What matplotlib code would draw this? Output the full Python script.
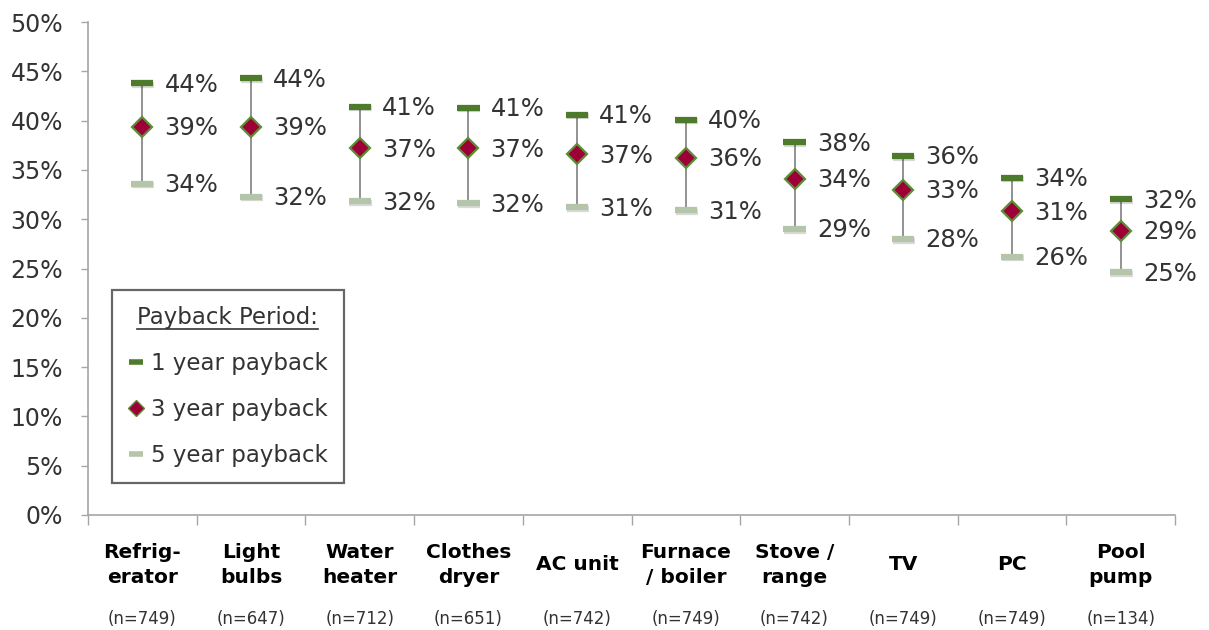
import numpy as np
import matplotlib
matplotlib.use("Agg")
import matplotlib.pyplot as plt
import matplotlib.patheffects as pe
from matplotlib.lines import Line2D
from matplotlib.ticker import PercentFormatter, FixedLocator

# --- Datos ----------------------------------------------------------------
categorias = ["Refrig-\nerator", "Light\nbulbs", "Water\nheater", "Clothes\ndryer",
              "AC unit", "Furnace\n/ boiler", "Stove /\nrange", "TV", "PC", "Pool\npump"]
muestras = ["(n=749)", "(n=647)", "(n=712)", "(n=651)", "(n=742)",
            "(n=749)", "(n=742)", "(n=749)", "(n=749)", "(n=134)"]
pago_1 = [0.438, 0.443, 0.414, 0.413, 0.406, 0.401, 0.378, 0.364, 0.342, 0.320]
pago_3 = [0.394, 0.394, 0.372, 0.372, 0.366, 0.362, 0.341, 0.330, 0.308, 0.288]
pago_5 = [0.336, 0.323, 0.318, 0.316, 0.312, 0.309, 0.290, 0.280, 0.262, 0.246]

VERDE = "#4e7a2b"
VERDE_CLARO = "#b5c5aa"
GRANATE = "#9c0036"
BORDE_ROMBO = "#5f8c38"
TEXTO = "#333333"
GRIS = "#a6a6a6"

fig = plt.figure(figsize=(12.09, 6.30), dpi=100)
ax = fig.add_axes([88 / 1209, 1 - 515 / 630, 1087 / 1209, 493 / 630])

x = np.arange(len(categorias))
sombra = [pe.SimpleLineShadow(offset=(0.6, -1.2), alpha=0.15), pe.Normal()]

# Lineas verticales entre 1 y 5 anos
ax.vlines(x, pago_5, pago_1, color="#7f7f7f", lw=1.2, zorder=2)
# Topes de 1 y 5 anos
ax.plot(x, pago_5, ls="none", marker="_", ms=16, mew=4.5, color=VERDE_CLARO,
        zorder=3, path_effects=sombra)
ax.plot(x, pago_1, ls="none", marker="_", ms=16, mew=4.5, color=VERDE,
        zorder=3, path_effects=sombra)
# Rombo de 3 anos
ax.plot(x, pago_3, ls="none", marker="D", ms=10, mfc=GRANATE, mec=BORDE_ROMBO,
        mew=1.6, zorder=4)

# Etiquetas de datos
for serie in (pago_1, pago_3, pago_5):
    for xi, v in zip(x, serie):
        ax.annotate(f"{v:.0%}", (xi, v), xytext=(16, -1), textcoords="offset points",
                    ha="left", va="center", fontsize=17.5, color=TEXTO)

# Ejes
ax.set_xlim(-0.5, len(categorias) - 0.5)
ax.set_ylim(0, 0.5)
ax.set_yticks(np.arange(0, 0.51, 0.05))
ax.yaxis.set_major_formatter(PercentFormatter(1.0, decimals=0))
ax.tick_params(axis="y", labelsize=17, labelcolor=TEXTO, color=GRIS, length=5,
               width=1, pad=13)
ax.xaxis.set_major_locator(FixedLocator(np.arange(-0.5, len(categorias), 1.0)))
ax.tick_params(axis="x", labelbottom=False, color=GRIS, length=7, width=1)
for lado in ("top", "right"):
    ax.spines[lado].set_visible(False)
for lado in ("left", "bottom"):
    ax.spines[lado].set_color(GRIS)
    ax.spines[lado].set_linewidth(1.2)

tr = ax.get_xaxis_transform()
for xi, cat, n in zip(x, categorias, muestras):
    ax.text(xi, -0.101, cat, transform=tr, ha="center", va="center",
            fontsize=14.5, fontweight="bold", color="black", linespacing=1.4)
    ax.text(xi, -0.210, n, transform=tr, ha="center", va="center",
            fontsize=12, color=TEXTO)

# Leyenda
manijas = [
    Line2D([], [], ls="none", marker="_", ms=10, mew=4, color=VERDE),
    Line2D([], [], ls="none", marker="D", ms=8, mfc=GRANATE, mec=BORDE_ROMBO, mew=1),
    Line2D([], [], ls="none", marker="_", ms=10, mew=4, color=VERDE_CLARO),
]
leg = ax.legend(manijas, ["1 year payback", "3 year payback", "5 year payback"],
                title="Payback Period:", loc="upper left",
                bbox_to_anchor=(0.022, 0.456), borderaxespad=0,
                fontsize=16.5, title_fontsize=16.5,
                frameon=True, fancybox=False, handlelength=0.7, handletextpad=0.3,
                labelspacing=1.0, borderpad=0.7, labelcolor=TEXTO)
leg.get_frame().set_edgecolor("#404040")
leg.get_frame().set_linewidth(1.6)
leg.get_title().set_color(TEXTO)

# Subrayado del titulo de la leyenda
fig.canvas.draw()
bb = leg.get_title().get_window_extent().transformed(fig.transFigure.inverted())
fig.add_artist(Line2D([bb.x0, bb.x1], [bb.y0 + 0.001, bb.y0 + 0.001],
                      transform=fig.transFigure, color=TEXTO, lw=1.2))

fig.savefig("out.png", dpi=100)
